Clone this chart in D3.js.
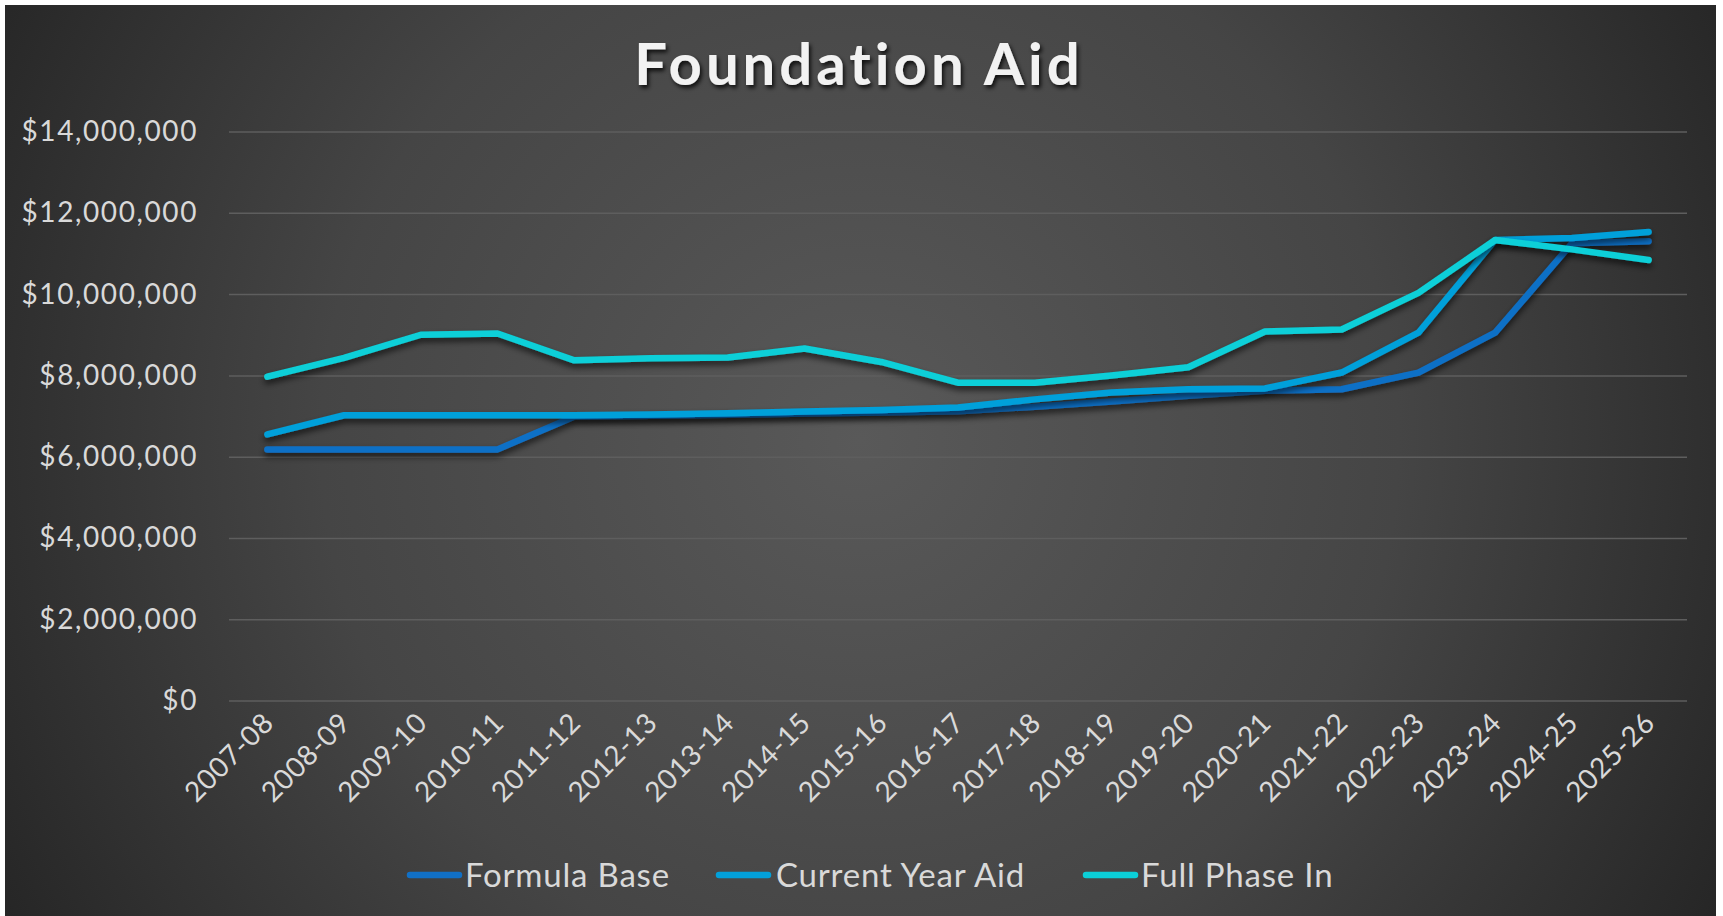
<!DOCTYPE html>
<html>
<head>
<meta charset="utf-8">
<script src="https://cdn.jsdelivr.net/npm/d3@7"></script>
<style>
  html, body { margin: 0; padding: 0; background: #ffffff; }
  svg { display: block; }
</style>
</head>
<body>
<svg id="chart" width="1723" height="916"></svg>
<script>
const years = ["2007-08","2008-09","2009-10","2010-11","2011-12","2012-13","2013-14","2014-15","2015-16","2016-17","2017-18","2018-19","2019-20","2020-21","2021-22","2022-23","2023-24","2024-25","2025-26"];
const formulaBase   = [6180000,6180000,6180000,6180000,6990000,7010000,7030000,7060000,7090000,7120000,7230000,7360000,7500000,7620000,7660000,8070000,9050000,11250000,11300000];
const currentYear   = [6550000,7020000,7020000,7020000,7020000,7040000,7070000,7110000,7150000,7210000,7410000,7580000,7660000,7680000,8070000,9050000,11330000,11380000,11530000];
const fullPhaseIn   = [7970000,8430000,9000000,9030000,8370000,8420000,8440000,8660000,8330000,7820000,7820000,8000000,8200000,9080000,9130000,10030000,11330000,11100000,10840000];
const yTicks = [0,2000000,4000000,6000000,8000000,10000000,12000000,14000000];
const seriesNames = ["Formula Base","Current Year Aid","Full Phase In"];
const seriesColors = ["#1170c6","#02a0da","#0bcfd8"];

const series = [formulaBase, currentYear, fullPhaseIn].map((v,i)=>({name:seriesNames[i], color:seriesColors[i], values:v}));

const svg = d3.select("#chart");
const W = 1723, H = 916;
const defs = svg.append("defs");
const grad = defs.append("radialGradient").attr("id","bg")
  .attr("gradientUnits","userSpaceOnUse").attr("cx",860).attr("cy",440).attr("r",980);
grad.append("stop").attr("offset","0").attr("stop-color","#595959");
grad.append("stop").attr("offset","0.55").attr("stop-color","#454545");
grad.append("stop").attr("offset","1").attr("stop-color","#262626");

const sh = defs.append("filter").attr("id","shadow").attr("x","-5%").attr("y","-20%").attr("width","110%").attr("height","160%");
sh.append("feDropShadow").attr("dx",0).attr("dy",4).attr("stdDeviation",3).attr("flood-color","#000").attr("flood-opacity",0.65);
const tsh = defs.append("filter").attr("id","tshadow").attr("x","-10%").attr("y","-30%").attr("width","120%").attr("height","170%");
tsh.append("feDropShadow").attr("dx",2).attr("dy",3).attr("stdDeviation",2).attr("flood-color","#000").attr("flood-opacity",0.8);

svg.append("rect").attr("x",5).attr("y",5).attr("width",1711).attr("height",H-5).attr("fill","url(#bg)");

const plotL = 229, plotR = 1687, plotT = 131.5, plotB = 700.6;
const x = d3.scaleBand().domain(years).range([plotL, plotR]).padding(0);
const xc = d => x(d) + x.bandwidth()/2;
const y = d3.scaleLinear().domain([0,14000000]).range([plotB, plotT]);

const fontFam = "Lato, 'Open Sans', 'DejaVu Sans', sans-serif";

// title
svg.append("text").attr("x",859).attr("y",85).attr("text-anchor","middle")
  .attr("font-family",fontFam).attr("font-weight","bold").attr("font-size",58)
  .attr("letter-spacing",4).attr("fill","#f2f2f2").attr("filter","url(#tshadow)")
  .text("Foundation Aid");

// y axis with gridlines
const yAxis = svg.append("g").attr("transform",`translate(${plotL},0)`)
  .call(d3.axisLeft(y).tickValues(yTicks).tickSize(-(plotR-plotL)).tickPadding(31).tickFormat(d3.format("$,")));
yAxis.select(".domain").remove();
yAxis.selectAll(".tick line").attr("stroke","#5e5e5e").attr("stroke-width",1.5);
yAxis.selectAll(".tick text").attr("fill","#d9d9d9").attr("font-family",fontFam)
  .attr("font-size",28).attr("letter-spacing",1.6);

// x axis labels
const xAxis = svg.append("g").attr("transform",`translate(0,${plotB})`)
  .call(d3.axisBottom(x).tickSize(0).tickPadding(0));
xAxis.select(".domain").remove();
xAxis.selectAll(".tick text")
  .attr("fill","#d9d9d9").attr("font-family",fontFam).attr("font-size",28)
  .attr("letter-spacing",0.6)
  .attr("text-anchor","end").attr("dy",0).attr("y",0)
  .attr("transform","translate(8,24) rotate(-45)");

// lines
const line = d3.line().x((d,i)=>xc(years[i])).y(d=>y(d));
svg.append("g").selectAll("path").data(series).join("path")
  .attr("d",d=>line(d.values)).attr("fill","none").attr("stroke",d=>d.color)
  .attr("stroke-width",6.5).attr("stroke-linecap","round").attr("stroke-linejoin","round")
  .attr("filter","url(#shadow)");

// legend
const legendItems = [{sx:407, tx:465},{sx:716, tx:776},{sx:1083, tx:1141}];
const lg = svg.append("g");
series.forEach((s,i)=>{
  const it = legendItems[i];
  lg.append("line").attr("x1",it.sx+3).attr("x2",it.sx+52).attr("y1",875).attr("y2",875)
    .attr("stroke",s.color).attr("stroke-width",6.5).attr("stroke-linecap","round");
  lg.append("text").attr("x",it.tx).attr("y",887).attr("fill","#d9d9d9")
    .attr("font-family",fontFam).attr("font-size",33).attr("letter-spacing",0.8).text(s.name);
});
</script>
</body>
</html>
